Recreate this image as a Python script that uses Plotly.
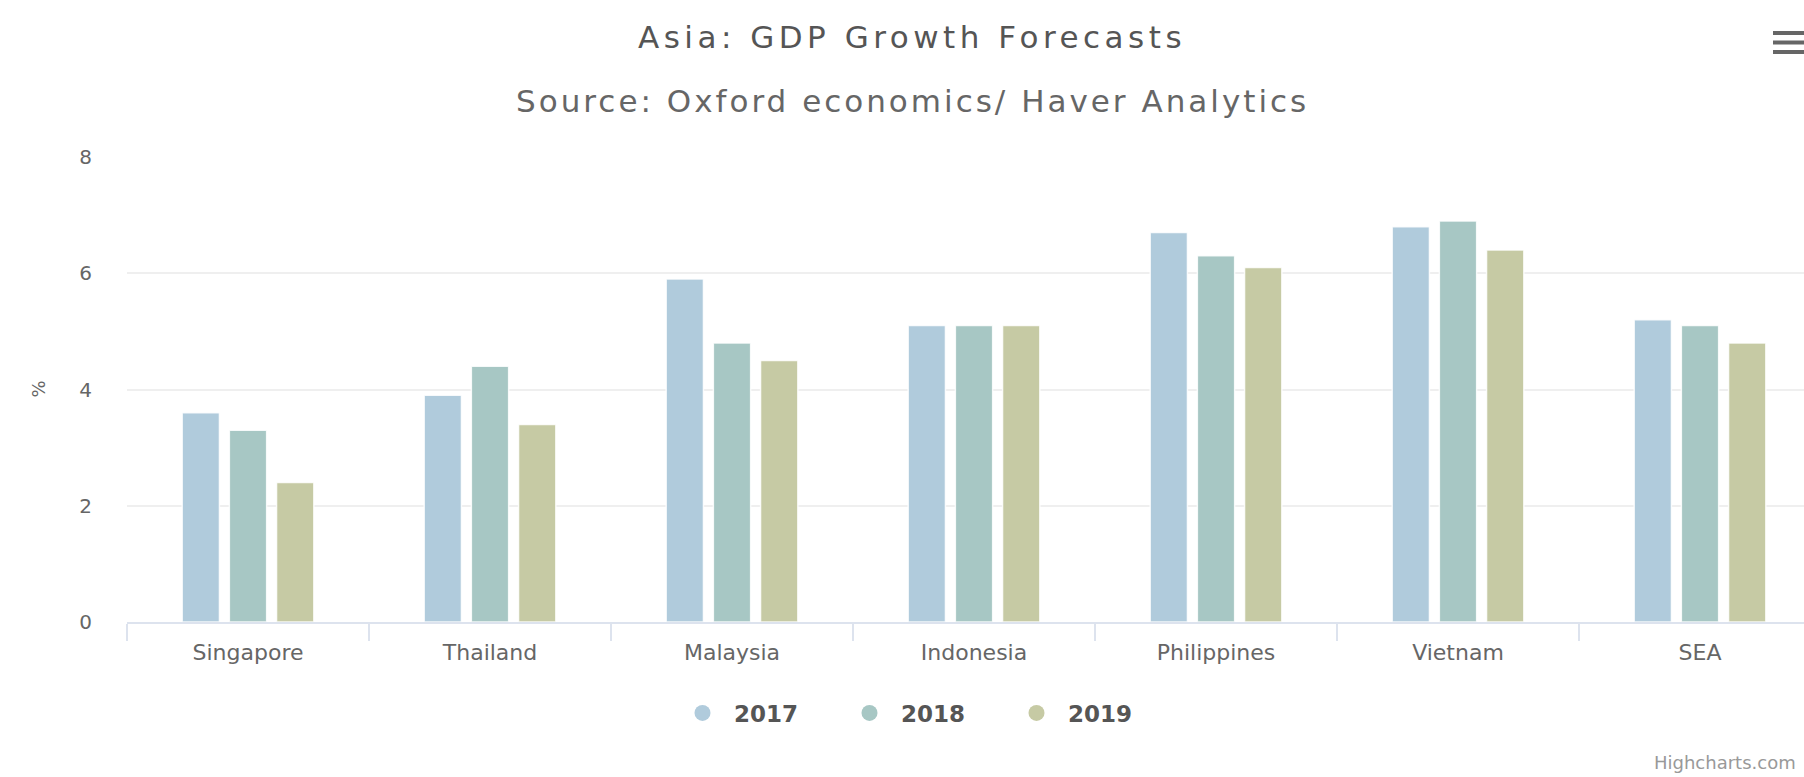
import plotly.graph_objects as go

categories = ["Singapore", "Thailand", "Malaysia", "Indonesia", "Philippines", "Vietnam", "SEA"]
years = ["2017", "2018", "2019"]
v2017 = [3.6, 3.9, 5.9, 5.1, 6.7, 6.8, 5.2]
v2018 = [3.3, 4.4, 4.8, 5.1, 6.3, 6.9, 5.1]
v2019 = [2.4, 3.4, 4.5, 5.1, 6.1, 6.4, 4.8]
series = [v2017, v2018, v2019]
colors = ["#b0cbdc", "#a7c7c4", "#c6caa4"]
y_ticks = [0, 2, 4, 6, 8]

title = "Asia: GDP Growth Forecasts"
subtitle = "Source: Oxford economics/ Haver Analytics"
y_title = "%"
credit = "Highcharts.com"

W, H = 1804, 777
L, R, T, B = 127, 0, 157, 155
pw = W - L - R
ph = H - T - B


def px_x(x):
    return (x - L) / pw


def px_y(y):
    return (H - B - y) / ph


FONT = "DejaVu Sans"
fig = go.Figure()

for name, vals, col in zip(years, series, colors):
    fig.add_trace(go.Bar(
        x=categories, y=vals, name=name, showlegend=False,
        marker=dict(color=col, line=dict(color="rgba(255,255,255,0.85)", width=1.5)),
    ))
for name, col in zip(years, colors):
    fig.add_trace(go.Scatter(
        x=[None], y=[None], mode="markers", name="\u2002" + name,
        marker=dict(symbol="circle", size=16, color=col),
    ))

fig.update_layout(
    width=W, height=H,
    margin=dict(l=L, r=R, t=T, b=B, pad=0),
    paper_bgcolor="white", plot_bgcolor="white",
    barmode="group", bargap=0.415, bargroupgap=0.21,
    font=dict(family=FONT, color="#666666"),
    title=dict(
        text=f"<span style='letter-spacing:4.5px'>{title}</span>",
        x=912 / W, xanchor="center", xref="container",
        y=1 - 37 / H, yanchor="middle", yref="container",
        font=dict(family=FONT, size=31, color="#555555"),
    ),
    xaxis=dict(
        type="category", range=[-0.5, -0.5 + pw / 242.0],
        showgrid=False, zeroline=False,
        showline=True, linecolor="#dde3ee", linewidth=2,
        ticks="outside", tickson="boundaries", ticklen=17, tickwidth=2, tickcolor="#dde3ee",
        ticklabelstandoff=10,
        tickfont=dict(family=FONT, size=22, color="#666666"),
        fixedrange=True,
    ),
    yaxis=dict(
        range=[0, 8], tickvals=y_ticks, ticktext=[str(t) for t in y_ticks],
        showgrid=True, gridcolor="#efefef", gridwidth=2,
        zeroline=False, showline=False, ticks="",
        ticklabelstandoff=34,
        tickfont=dict(family=FONT, size=20, color="#666666"),
        fixedrange=True,
    ),
    legend=dict(
        orientation="h", xref="container", yref="container",
        x=933 / W, xanchor="center", y=1 - 713 / H, yanchor="middle",
        font=dict(family=FONT, size=23, color="#555555", weight="bold"),
        itemsizing="trace", entrywidth=122, entrywidthmode="pixels",
        bgcolor="rgba(0,0,0,0)",
    ),
    annotations=[
        dict(text=f"<span style='letter-spacing:3px'>{subtitle}</span>",
             xref="paper", yref="paper", x=px_x(912), y=px_y(101),
             xanchor="center", yanchor="middle", showarrow=False,
             font=dict(family=FONT, size=31, color="#666666")),
        dict(text=y_title, xref="paper", yref="paper", x=px_x(38), y=0.5,
             xanchor="center", yanchor="middle", showarrow=False, textangle=-90,
             font=dict(family=FONT, size=18, color="#666666")),
        dict(text=credit, xref="paper", yref="paper", x=px_x(1798), y=px_y(762),
             xanchor="right", yanchor="middle", showarrow=False,
             font=dict(family=FONT, size=18, color="#999999")),
    ],
    shapes=[
        dict(type="line", xref="paper", yref="paper", x0=px_x(1773), x1=1.01,
             y0=px_y(yy), y1=px_y(yy), line=dict(color="#666666", width=4))
        for yy in (33, 42.5, 52)
    ],
)

fig.write_html("out.html", config={"displayModeBar": False},
               post_script="document.body.style.margin='0';document.body.style.overflow='hidden';")
